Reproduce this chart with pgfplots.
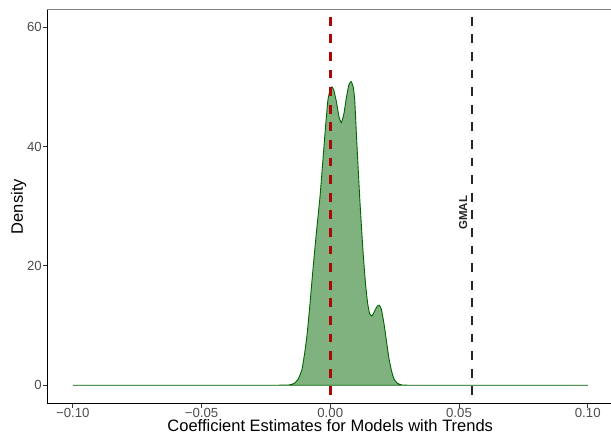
\documentclass[border=0pt]{standalone}
\usepackage{fontspec}
\setmainfont{Liberation Sans}
\usepackage{pgfplots}
\pgfplotsset{compat=1.18}

\definecolor{densfill}{RGB}{128,178,127}
\definecolor{densline}{RGB}{0,100,0}
\definecolor{refred}{RGB}{170,8,8}
\definecolor{refblack}{RGB}{38,38,38}
\definecolor{ticktext}{RGB}{77,77,77}
\definecolor{tickmark}{RGB}{51,51,51}
\definecolor{topline}{RGB}{128,128,128}

% kernel density of the coefficient estimates
\pgfplotstableread{
x        y
-0.100   0
-0.020   0
-0.016   0.05
-0.014   0.3
-0.0125  1.0
-0.011   2.6
-0.0099  5.5
-0.009   8.5
-0.008   13
-0.0068  19
-0.0054  25.5
-0.004   31.5
-0.0028  38
-0.0018  43.5
-0.0009  47.8
0.0000   49.6
0.0007   50.0
0.0014   49.4
0.0024   47.5
0.0034   45.0
0.0043   44.0
0.0053   45.5
0.0063   48.3
0.0072   50.3
0.0081   50.9
0.0089   50.0
0.0095   47.8
0.0104   40
0.0115   31
0.0127   22.6
0.0137   17
0.0145   13.8
0.0153   12
0.0162   11.6
0.0172   12.4
0.0182   13.2
0.0190   13.4
0.0198   12.8
0.0208   10.5
0.0218   7.5
0.0228   4.5
0.0238   2.4
0.0248   1.0
0.0260   0.35
0.0275   0.08
0.030    0
0.100    0
}\densitytable

\begin{document}
\begin{tikzpicture}
\begin{axis}[
  at={(47pt,32pt)}, anchor=south west,
  scale only axis, width=566.5pt, height=394.7pt,
  xmin=-0.11, xmax=0.11, ymin=-3.15, ymax=63,
  axis lines=left,
  axis line style={-, black, line width=1pt},
  xtick={-0.1,-0.05,0,0.05,0.1},
  xticklabels={−0.10,−0.05,0.00,0.05,0.10},
  ytick={0,20,40,60},
  yticklabels={0,20,40,60},
  tick align=outside,
  major tick length=4pt,
  tick style={tickmark, line width=1pt},
  ticklabel style={font=\fontsize{13.2}{15}\selectfont, text=ticktext, inner sep=1pt},
  xticklabel style={yshift=1pt},
  xlabel={Coefficient Estimates for Models with Trends},
  ylabel={Density},
  label style={font=\fontsize{16.5}{19}\selectfont, inner sep=1pt},
  xlabel style={at={(axis description cs:0.5,-0.0709)}, anchor=base},
  ylabel style={at={(axis description cs:-0.0424,0.5)}, anchor=base},
  clip=false,
]
\addplot[draw=densline, line width=0.9pt, fill=densfill, smooth, tension=0.3]
  table[x=x, y=y] {\densitytable} \closedcycle;
\addplot[draw=refred, line width=2.7pt, dash pattern=on 8.8pt off 8.8pt, dash phase=10pt]
  coordinates {(0,63) (0,-3.15)};
\addplot[draw=refblack, line width=2.7pt, dash pattern=on 8.8pt off 8.8pt, dash phase=10pt]
  coordinates {(0.055,63) (0.055,-3.15)};
\node[rotate=90, text=refblack, font=\fontsize{11.5}{13}\selectfont\bfseries]
  at (axis cs:0.0516,28.9) {GMAL};
\draw[topline, line width=1pt] (rel axis cs:0,1) -- (rel axis cs:1,1);
\end{axis}
\pgfresetboundingbox
\path[use as bounding box] (0,0) rectangle (611pt,436pt);
\end{tikzpicture}
\end{document}
